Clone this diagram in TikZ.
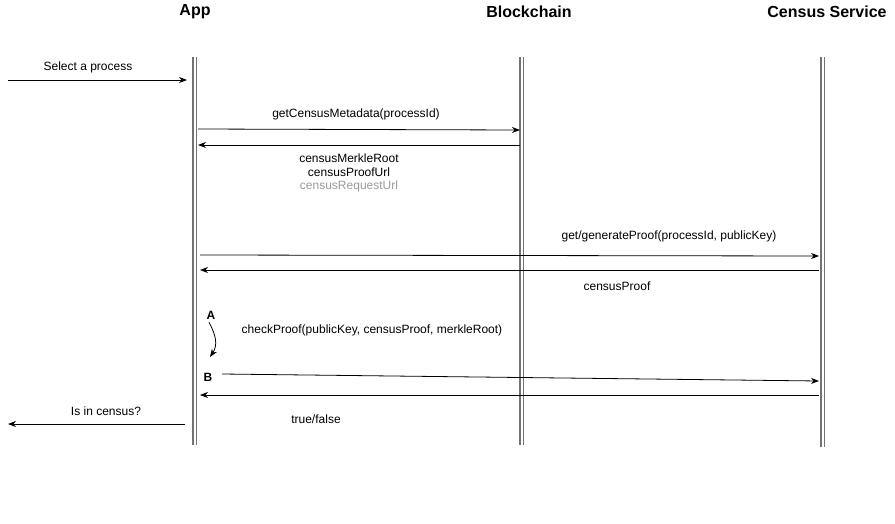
\documentclass[tikz,border=0pt]{standalone}
\usepackage{fontspec}
\setmainfont{Liberation Sans}
\usetikzlibrary{arrows.meta}
\begin{document}
\begin{tikzpicture}[x=1pt,y=-1pt,
  life/.style={draw=gray!90!black, line width=1.2pt},
  msg/.style={draw=black, line width=0.8pt, -{Stealth[length=8pt,width=6pt]}},
  lbl/.style={font=\fontsize{12}{14}\selectfont, inner sep=0pt, align=center},
  ttl/.style={font=\fontsize{16}{19}\selectfont\bfseries, inner sep=0pt}]
\useasboundingbox (0,0) rectangle (895,523);
% titles
\node[ttl] (tApp) at (195,12) {App};
\node[ttl] (tBc) at (529,12) {Blockchain};
\node[ttl] (tCs) at (827,12) {Census Service};
% lifelines
\draw[life] (193,57) -- (193,445);
\draw[life] (196.5,57) -- (196.5,445);
\draw[life] (520,57) -- (520,445);
\draw[life] (523.5,57) -- (523.5,445);
\draw[life] (821,57) -- (821,447);
\draw[life] (824.5,57) -- (824.5,447);
% coordinates
\coordinate (s0) at (8,80); \coordinate (s1) at (187,80);
\coordinate (g0) at (198,129); \coordinate (g1) at (520,130);
\coordinate (r0) at (520,145); \coordinate (r1) at (198,145);
\coordinate (p0) at (200,255); \coordinate (p1) at (819,256);
\coordinate (q0) at (819,270); \coordinate (q1) at (200,270);
\coordinate (c0) at (222,374); \coordinate (c1) at (819,381);
\coordinate (t0) at (819,395); \coordinate (t1) at (200,395);
\coordinate (i0) at (185,424); \coordinate (i1) at (8,424);
% messages
\draw[msg] (s0) -- (s1);
\node[lbl] (lsel) at (88,67) {Select a process};
\draw[msg] (g0) -- (g1);
\node[lbl] (lget) at (356,114) {getCensusMetadata(processId)};
\draw[msg] (r0) -- (r1);
\node[lbl] (lr1) at (349,158) {censusMerkleRoot};
\node[lbl] (lr2) at (349,172) {censusProofUrl};
\node[lbl, text=gray!80] (lr3) at (349,186) {censusRequestUrl};
\draw[msg] (p0) -- (p1);
\node[lbl] (lgen) at (669,236) {get/generateProof(processId, publicKey)};
\draw[msg] (q0) -- (q1);
\node[lbl] (lcp) at (617,286) {censusProof};
\node[lbl, font=\fontsize{12}{14}\selectfont\bfseries] (A) at (211,315) {A};
\node[lbl, font=\fontsize{12}{14}\selectfont\bfseries] (B) at (208,377) {B};
\draw[msg] (A.south) ++(-2,3) .. controls (216,335) and (218,345) .. (210,357);
\node[lbl] (lchk) at (372,330) {checkProof(publicKey, censusProof, merkleRoot)};
\draw[msg] (c0) -- (c1);
\draw[msg] (t0) -- (t1);
\node[lbl] (ltf) at (316,419) {true/false};
\draw[msg] (i0) -- (i1);
\node[lbl] (lin) at (106,411) {Is in census?};
\end{tikzpicture}
\end{document}
